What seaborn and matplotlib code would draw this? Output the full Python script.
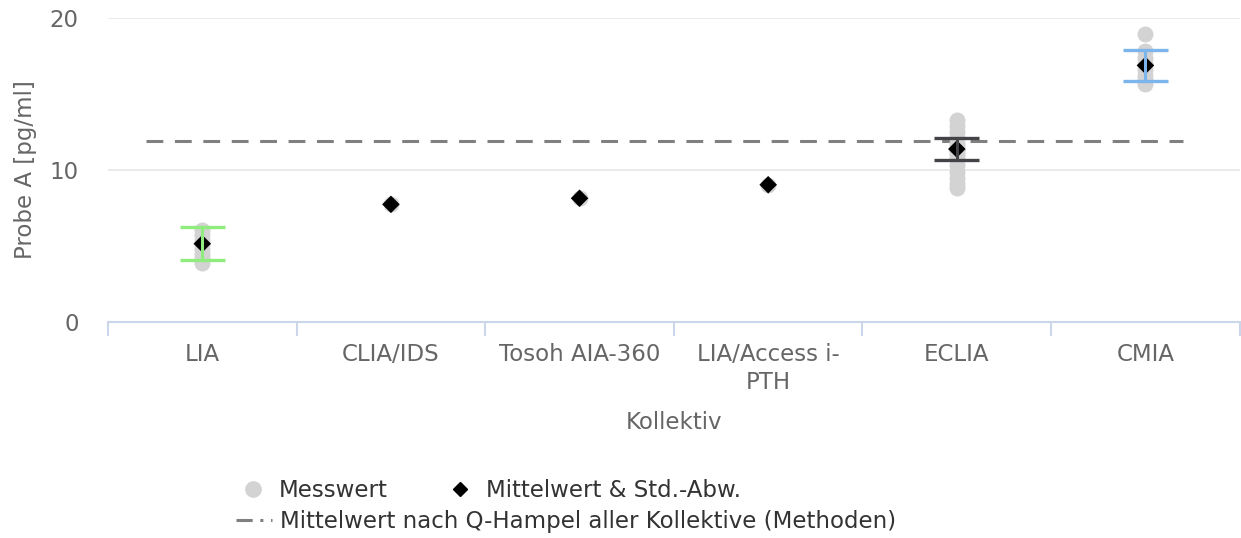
import numpy as np
import pandas as pd
import matplotlib
matplotlib.use("Agg")
import matplotlib.pyplot as plt
from matplotlib.lines import Line2D
import seaborn as sns

# Methods (collectives) and their individual measurements
categories = ["LIA", "CLIA/IDS", "Tosoh AIA-360", "LIA/Access i-\nPTH", "ECLIA", "CMIA"]
vals_lia = [6.05, 5.7, 5.4, 5.1, 4.8, 4.5, 4.2, 3.9]
vals_clia = [7.74]
vals_tosoh = [8.14]
vals_access = [9.03]
vals_eclia = [13.3, 12.9, 12.5, 12.1, 11.8, 11.6, 11.4, 11.3, 11.2, 11.0,
              10.7, 10.3, 9.9, 9.5, 9.1, 8.8]
vals_cmia = [18.95, 17.8, 17.4, 17.0, 16.6, 16.2, 15.9, 15.65]

# Mean and standard deviation per method (nan = no deviation shown)
means = [5.15, 7.74, 8.14, 9.03, 11.38, 16.88]
sds = [1.1, np.nan, np.nan, np.nan, 0.72, 1.0]
err_colors = ["#90ed7d", "#434348", "#434348", "#434348", "#434348", "#7cb5ec"]

hampel_mean = 11.9

y_ticks = [0, 10, 20]

measurements = [vals_lia, vals_clia, vals_tosoh, vals_access, vals_eclia, vals_cmia]
df = pd.DataFrame(
    [(c, v) for c, vs in zip(categories, measurements) for v in vs],
    columns=["Kollektiv", "Wert"],
)
df_mean = pd.DataFrame({"Kollektiv": categories, "Mittel": means})

sns.set_theme(style="white")
plt.rcParams["font.family"] = ["DejaVu Sans"]

fig = plt.figure(figsize=(12.41, 5.38), dpi=100)
ax = fig.add_axes([0.087, 0.4015, 0.912, 0.565])

text_gray = "#666666"
axis_blue = "#ccd6eb"
fs = 16.5

# Individual measurements
sns.stripplot(data=df, x="Kollektiv", y="Wert", order=categories, jitter=False,
              color="#d3d3d3", size=11.5, linewidth=0, ax=ax, zorder=2)

# Means as black diamonds
sns.scatterplot(data=df_mean, x="Kollektiv", y="Mittel", marker="D", s=80,
                color="black", edgecolor="none", ax=ax, zorder=6)

# Standard deviation whiskers: stem plus caps, drawn over the mean marker
cap_half = 0.12
for i, (m, s, c) in enumerate(zip(means, sds, err_colors)):
    if not np.isnan(s):
        ax.vlines(i, m - s, m + s, colors=c, lw=2.2, zorder=8)
        ax.hlines([m - s, m + s], i - cap_half, i + cap_half, colors=c,
                  lw=2.4, zorder=8)

# Robust overall mean (Q-Hampel) across all methods
ax.plot([-0.3, 5.2], [hampel_mean, hampel_mean], color="#808080", lw=2.2,
        dashes=(5.5, 3.8), zorder=1)

ax.set_xlim(-0.5, len(categories) - 0.5)
ax.set_ylim(0, 20)
ax.set_yticks(y_ticks)
ax.set_yticklabels([str(t) for t in y_ticks])

for sp in ["top", "right", "left"]:
    ax.spines[sp].set_visible(False)
ax.spines["bottom"].set_color(axis_blue)
ax.spines["bottom"].set_linewidth(1.5)

for t in y_ticks[1:]:
    ax.axhline(t, color="#e6e6e6", lw=1.2, zorder=0)

ax.set_xticks(range(len(categories)))
ax.set_xticklabels(categories, linespacing=1.3)
ax.set_xticks(np.arange(-0.5, len(categories), 1.0), minor=True)
ax.tick_params(axis="x", which="major", length=0, pad=15, labelsize=fs,
               labelcolor=text_gray)
ax.tick_params(axis="x", which="minor", length=10, width=1.5, color=axis_blue,
               direction="out", bottom=True)
ax.tick_params(axis="y", length=0, pad=21, labelsize=fs, labelcolor=text_gray,
               left=False)

ax.set_xlabel("Kollektiv", fontsize=fs, color=text_gray, labelpad=12)
ax.set_ylabel("Probe A [pg/ml]", fontsize=fs, color=text_gray, labelpad=9)

# Legend: two rows
h_mess = Line2D([], [], ls="none", marker="o", markersize=11, color="#d3d3d3")
h_mean = Line2D([], [], ls="none", marker="D", markersize=7.5, color="black")
h_hampel = Line2D([], [], color="#808080", lw=2.2, dashes=(5.3, 2.5, 1.0, 2.5))

leg1 = fig.legend([h_mess, h_mean], ["Messwert", "Mittelwert & Std.-Abw."],
                  loc="center left", bbox_to_anchor=(0.185, 0.089), ncol=2,
                  frameon=False, fontsize=fs, handlelength=1.0,
                  handletextpad=0.65, columnspacing=2.65, borderpad=0,
                  labelcolor="#333333")
leg2 = fig.legend([h_hampel], ["Mittelwert nach Q-Hampel aller Kollektive (Methoden)"],
                  loc="center left", bbox_to_anchor=(0.181, 0.030),
                  frameon=False, fontsize=fs, handlelength=1.55,
                  handletextpad=0.35, borderpad=0, labelcolor="#333333")

fig.savefig("out.png", dpi=100)
